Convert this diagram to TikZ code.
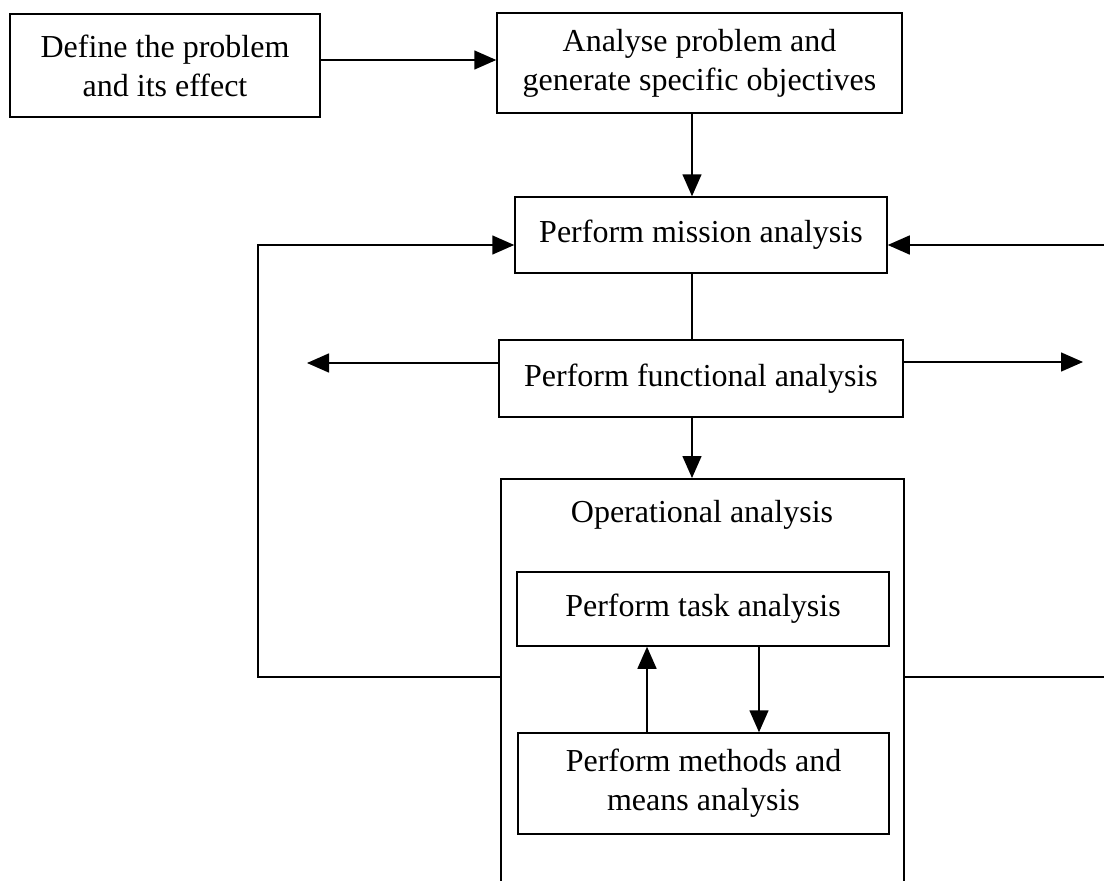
\documentclass[tikz,border=0pt]{standalone}
\usepackage{fontspec}
\setmainfont{Liberation Serif}
\usetikzlibrary{arrows.meta}
\begin{document}
\begin{tikzpicture}[x=1pt,y=-1pt,
  box/.style={draw, line width=1.5pt, rectangle, inner sep=0pt, align=center,
              font=\fontsize{32}{39}\selectfont},
  titletext/.style={inner sep=0pt, font=\fontsize{32}{39}\selectfont},
  link/.style={line width=1.5pt},
  flow/.style={link, -{Triangle[length=22pt,width=19pt]}},
]
% page
\fill[white] (0,0) rectangle (1104,881);
\clip (0,0) rectangle (1104,881);

% boxes
\node[box, minimum width=310pt, minimum height=103pt] (def) at (165,65.5)
  {Define the problem\\and its effect};
\node[box, minimum width=405pt, minimum height=100pt] (ana) at (699.5,63)
  {Analyse problem and\\generate specific objectives};
\node[box, minimum width=372pt, minimum height=76pt] (mis) at (701,235)
  {Perform mission analysis};
\node[box, minimum width=404pt, minimum height=77pt] (fun) at (701,378.5)
  {Perform functional analysis};
\node[box, minimum width=403pt, minimum height=440pt, anchor=north] (op) at (702.5,478) {};
\node[titletext, anchor=base] (optitle) at (702,522) {Operational analysis};
\node[box, minimum width=372pt, minimum height=74pt] (task) at (703,609)
  {Perform task analysis};
\node[box, minimum width=371pt, minimum height=101pt] (meth) at (703.5,783.5)
  {Perform methods and\\means analysis};

% guide coordinates for the connectors
\coordinate (spine) at (692,0);
\coordinate (toprow) at (0,60);
\coordinate (fl) at (307,363);
\coordinate (fr) at (1083,362);
\coordinate (upx) at (647,0);
\coordinate (dnx) at (759,0);
\coordinate (lb) at (258,677);
\coordinate (lt) at (258,245);
\coordinate (rb) at (1120,677);
\coordinate (rt) at (1120,245);

% main flow
\draw[flow] (def.east |- toprow) -- (ana.west |- toprow);
\draw[flow] (ana.south -| spine) -- (mis.north -| spine);
\draw[link] (mis.south -| spine) -- (fun.north -| spine);
\draw[flow] (fun.south -| spine) -- (op.north -| spine);

% side outputs of the functional analysis
\draw[flow] (fun.west |- fl) -- (fl);
\draw[flow] (fun.east |- fr) -- (fr);

% task / methods iteration
\draw[flow] (meth.north -| upx) -- (task.south -| upx);
\draw[flow] (task.south -| dnx) -- (meth.north -| dnx);

% feedback loops to the mission analysis
\draw[flow] (op.west |- lb) -- (lb) -- (lt) -- (mis.west |- lt);
\draw[flow] (op.east |- rb) -- (rb) -- (rt) -- (mis.east |- rt);
\end{tikzpicture}
\end{document}
